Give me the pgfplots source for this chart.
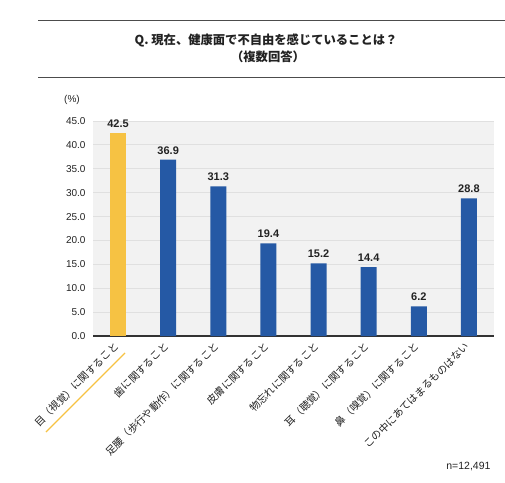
\documentclass[border=0pt]{standalone}
\usepackage{pgfplots}
\pgfplotsset{compat=1.18}
\usepackage{fontspec}
\setmainfont{Liberation Sans}
\newfontfamily\jp{Noto Sans CJK JP}
\definecolor{barblue}{HTML}{2559A5}
\definecolor{barorange}{HTML}{F6C243}
\definecolor{bggray}{HTML}{F2F2F2}
\definecolor{gridgray}{HTML}{E0E0E0}
\definecolor{txt}{HTML}{222222}
\begin{document}
\begin{tikzpicture}[x=1pt,y=1pt]
\path[use as bounding box] (0,0) rectangle (505,482);
\draw[color=black!70, line width=0.9pt] (38,462) -- (505,462);
\draw[color=black!70, line width=0.9pt] (38,405) -- (505,405);
\node[font=\jp\bfseries\fontsize{12.3}{14}\selectfont, text=txt] at (266,442) {Q.\ 現在、健康面で不自由を感じていることは？};
\node[font=\jp\bfseries\fontsize{12.3}{14}\selectfont, text=txt] at (268,425) {（複数回答）};
\node[font=\fontsize{10}{12}\selectfont, text=txt] at (72,382) {(\%)};
\node[anchor=east, font=\fontsize{10.5}{12}\selectfont, text=txt] at (494,15) {n=12,491};
\begin{axis}[
  at={(93pt,146pt)}, anchor=south west,
  scale only axis, width=401pt, height=215pt,
  xmin=-0.5, xmax=7.5, ymin=0, ymax=45,
  ytick={0,5,...,45},
  xtick={0,1,2,3,4,5,6,7},
  xticklabels={目（視覚）に関すること, 歯に関すること, 足腰（歩行や動作）に関すること, 皮膚に関すること, 物忘れに関すること, 耳（聴覚）に関すること, 鼻（嗅覚）に関すること, この中にあてはまるものはない},
  axis background/.style={fill=bggray},
  ymajorgrids, grid style={gridgray, line width=0.8pt},
  separate axis lines,
  axis x line*=bottom, axis y line*=left,
  y axis line style={draw=none},
  x axis line style={color=black!80, line width=1.3pt, -},
  major tick length=0pt,
  yticklabel style={font=\fontsize{10}{12}\selectfont, text=txt, xshift=-4pt, /pgf/number format/.cd, fixed, fixed zerofill, precision=1, assume math mode=true},
  xticklabel style={font=\jp\fontsize{10.3}{12}\selectfont, text=txt, xshift=1pt, yshift=-6pt, rotate=45, anchor=east},
  ybar, bar width=16pt,
  nodes near coords={\pgfmathprintnumber[fixed,fixed zerofill,precision=1,assume math mode=true]{\pgfplotspointmeta}},
  nodes near coords style={font=\bfseries\fontsize{11}{13}\selectfont, text=txt, yshift=2pt},
  clip=false,
]
\addplot[fill=barorange, draw=none, bar shift=0pt] coordinates {(0,42.5)};
\addplot[fill=barblue, draw=none, bar shift=0pt] coordinates {(1,36.9) (2,31.3) (3,19.4) (4,15.2) (5,14.4) (6,6.2) (7,28.8)};
\end{axis}
\draw[barorange, line width=1.2pt] (46,50) -- (125,129);
\end{tikzpicture}
\end{document}
